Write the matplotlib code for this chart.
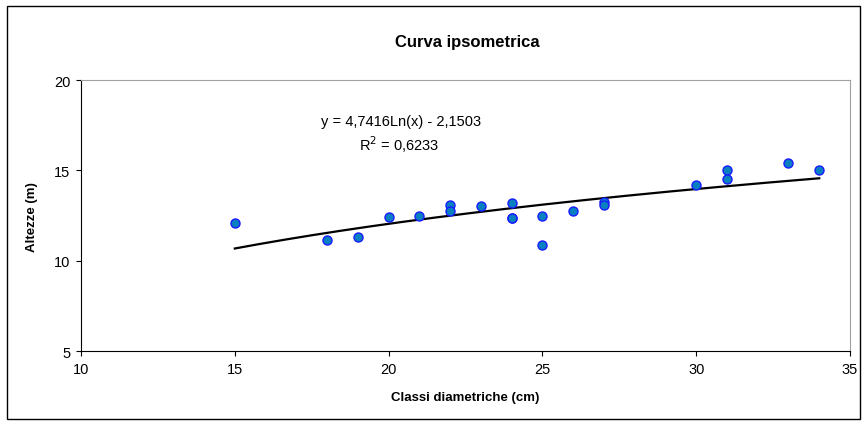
import matplotlib
matplotlib.use("Agg")
import matplotlib.pyplot as plt
from matplotlib.patches import Rectangle
import numpy as np

plt.rcParams['font.family'] = ['Liberation Sans', 'DejaVu Sans']

# diameter class (cm) and height (m)
diametri = [15, 18, 19, 20, 21, 22, 22, 23, 24, 24, 24, 25, 25, 26, 27, 27, 30, 31, 31, 33, 34]
altezze = [12.1, 11.15, 11.35, 12.45, 12.5, 13.1, 12.75, 13.05, 13.2, 12.4, 12.35, 12.5, 10.9,
           12.75, 13.25, 13.1, 14.2, 15.0, 14.55, 15.4, 15.0]

# logarithmic trend coefficients shown on the chart
coef_a = 4.7416
coef_b = -2.1503
r2 = 0.6233

fig = plt.figure(figsize=(8.67, 4.27), dpi=100)
ax = fig.add_axes([0.0934, 0.1745, 0.887, 0.6358])

xs = np.linspace(min(diametri), max(diametri), 200)
ax.plot(xs, coef_a * np.log(xs) + coef_b, color='black', lw=1.6, zorder=2)
ax.plot(diametri, altezze, 'o', ms=6.5, mfc='#0a80c0', mec='#1a1aff', mew=1.0, zorder=3)

ax.set_xlim(10, 35)
ax.set_ylim(5, 20)
ax.set_xticks([10, 15, 20, 25, 30, 35])
ax.set_yticks([5, 10, 15, 20])
ax.tick_params(direction='out', length=3.5, width=0.8, labelsize=10.5, pad=4)
for s in ['top', 'right']:
    ax.spines[s].set_color('#a0a0a0')
for s in ['left', 'bottom']:
    ax.spines[s].set_color('black')

ax.set_xlabel('Classi diametriche (cm)', fontsize=9.5, fontweight='bold', labelpad=11)
ax.set_ylabel('Altezze (m)', fontsize=9.5, fontweight='bold', labelpad=12)
fig.text(0.539, 0.9, 'Curva ipsometrica', ha='center', va='center', fontsize=12, fontweight='bold')

ax.text(20.4, 17.73, 'y = 4,7416Ln(x) - 2,1503', ha='center', va='center', fontsize=10.5)
ax.text(20.34, 16.46, 'R$^2$ = 0,6233', ha='center', va='center', fontsize=10.5)

fig.patches.append(Rectangle((7 / 867, 7 / 427), 853 / 867, 413 / 427, transform=fig.transFigure,
                             fill=False, edgecolor='black', lw=1.0))

fig.savefig('out.png', dpi=100)
